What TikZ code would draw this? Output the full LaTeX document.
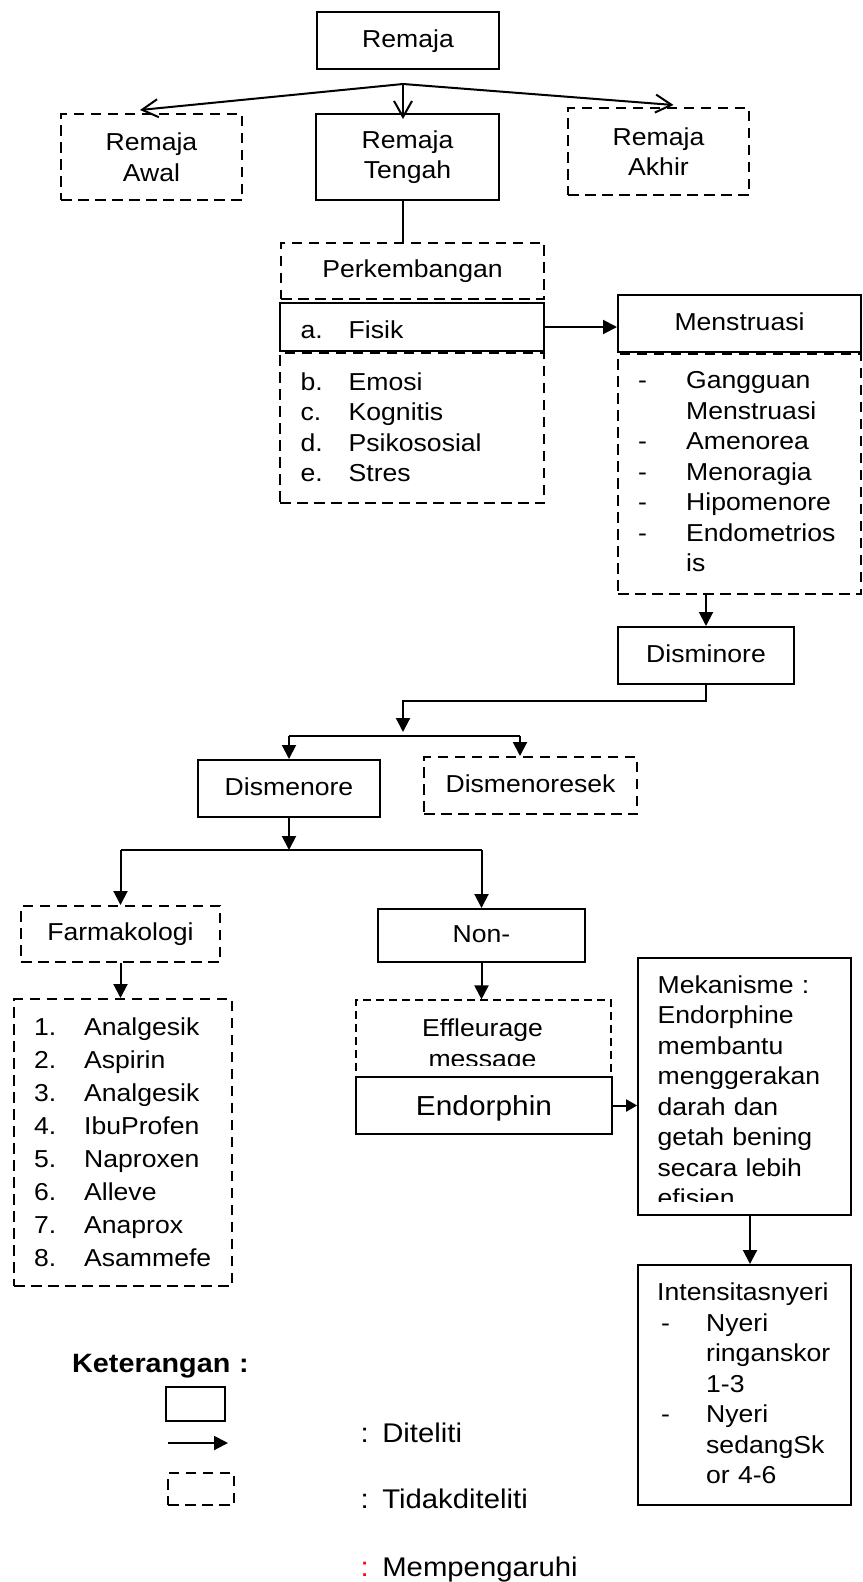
\documentclass[tikz,border=0pt]{standalone}
\usepackage{fontspec}
\setmainfont{Liberation Sans}[FakeStretch=1.085]
\usetikzlibrary{arrows.meta, positioning}
\newcommand{\butir}[3][48pt]{\makebox[#1][l]{#2}#3}

\begin{document}
\begin{tikzpicture}[
  x=1pt, y=-1pt,
  font=\fontsize{24.5pt}{30.5pt}\selectfont,
  kotak/.style={draw, line width=2pt, inner sep=0pt, align=center},
  putus/.style={kotak, dash pattern=on 10.5pt off 6.5pt},
  putustipis/.style={kotak, line width=1.2pt, dash pattern=on 8pt off 5pt},
  satu/.style={text height=17.5pt, text depth=4pt},
  teks/.style={inner sep=0pt, anchor=base west, align=left, text width=220pt},
  legenda/.style={teks, text width=320pt, font=\fontsize{27pt}{30pt}\selectfont},
  panah/.style={-{Triangle[length=14pt, width=14pt]}, line width=2pt},
  panahbuka/.style={-{Straight Barb[length=16pt, width=18pt]}, line width=2pt},
  panahkecil/.style={-{Triangle[length=11pt, width=12pt]}, line width=2pt},
  garis/.style={line width=2pt},
  garistipis/.style={line width=1.2pt}
]
\useasboundingbox (0,0) rectangle (862,1582);

\node[kotak, satu, minimum width=182pt, minimum height=57pt] (remaja) at (408,40.5) {Remaja};
\node[putus, minimum width=181pt, minimum height=86pt] (awal) at (151.5,157) {Remaja\\Awal};
\node[kotak, minimum width=183pt, minimum height=86pt] (tengah) at (407.5,157) {Remaja\\Tengah};
\node[putus, minimum width=181pt, minimum height=87pt] (akhir) at (658.5,151.5) {Remaja\\Akhir};

\coordinate (cabang) at (403,84);
\draw[panahbuka] (cabang) -- ([xshift=-11.5pt, yshift=3pt]awal.north);
\draw[panahbuka] (cabang) -- ([xshift=-4.5pt, yshift=-6pt]tengah.north);
\draw[panahbuka] (cabang) -- ([xshift=15pt, yshift=2pt]akhir.north);

\node[putus, satu, minimum width=263pt, minimum height=56pt] (perkembangan) at (412.5,270.5) {Perkembangan};
\draw[garis] (tengah.south -| cabang) -- (perkembangan.north -| cabang);

\node[kotak, minimum width=264pt, minimum height=48pt] (fisik) at (412,327) {};
\node[teks] (fisikteks) at (300.5,338) {\butir{a.}{Fisik}};
\node[putus, minimum width=264pt, minimum height=150pt] (fisiklist) at (412,428) {};
\node[teks] (fisiklistteks) at (300.5,390) {\butir{b.}{Emosi}\\\butir{c.}{Kognitis}\\\butir{d.}{Psikososial}\\\butir{e.}{Stres}};

\node[kotak, satu, minimum width=243pt, minimum height=57pt] (menstruasi) at (739.5,323.5) {Menstruasi};
\node[putus, minimum width=243pt, minimum height=240pt] (menslist) at (739.5,474) {};
\node[teks] (menslistteks) at (638,388.5) {\butir{-}{Gangguan}\\\butir{}{Menstruasi}\\\butir{-}{Amenorea}\\\butir{-}{Menoragia}\\\butir{-}{Hipomenore}\\\butir{-}{Endometrios}\\\butir{}{is}};
\draw[panah] (fisik.east) -- (fisik.east -| menstruasi.west);

\node[kotak, satu, minimum width=176pt, minimum height=57pt] (disminore) at (706,655.5) {Disminore};
\draw[panah] (menslist.south -| disminore.north) -- (disminore.north);

\coordinate (belok) at (403,701);
\coordinate (cabang2) at (403,736);
\draw[panah] (disminore.south) |- (belok) -- ([yshift=4pt]cabang2);

\node[kotak, satu, minimum width=182pt, minimum height=57pt] (dismenore) at (289,788.5) {Dismenore};
\node[putus, satu, minimum width=213pt, minimum height=57pt] (dismenoresek) at (530.5,785.5) {Dismenoresek};
\coordinate (tujuan) at ([xshift=-10.5pt]dismenoresek.north);
\draw[garistipis] (dismenore.north |- cabang2) -- (tujuan |- cabang2);
\draw[panah] (dismenore.north |- cabang2) -- (dismenore.north);
\draw[panah] (tujuan |- cabang2) -- (tujuan);

\coordinate (cabang3) at (288,850);
\draw[panah] (dismenore.south) -- (dismenore.south |- cabang3);

\node[putus, satu, minimum width=199pt, minimum height=56pt] (farmakologi) at (120.5,934) {Farmakologi};
\node[kotak, satu, minimum width=207pt, minimum height=53pt] (non) at (481.5,935.5) {Non-};
\draw[garistipis] (farmakologi.north |- cabang3) -- (non.north |- cabang3);
\draw[panah] (farmakologi.north |- cabang3) -- (farmakologi.north);
\draw[panah] (non.north |- cabang3) -- (non.north);

\node[putus, minimum width=218pt, minimum height=287pt] (farmlist) at (123,1142.5) {};
\node[teks, font=\fontsize{24.5pt}{33pt}\selectfont] (farmlistteks) at (34,1035) {\butir[50pt]{1.}{Analgesik}\\\butir[50pt]{2.}{Aspirin}\\\butir[50pt]{3.}{Analgesik}\\\butir[50pt]{4.}{IbuProfen}\\\butir[50pt]{5.}{Naproxen}\\\butir[50pt]{6.}{Alleve}\\\butir[50pt]{7.}{Anaprox}\\\butir[50pt]{8.}{Asammefe}};
\draw[panah] (farmakologi.south) -- (farmakologi.south |- farmlist.north);

\node[putustipis, minimum width=255pt, minimum height=77pt] (effleurage) at (483.5,1038.5) {};
\node[kotak, minimum width=256pt, minimum height=57pt, text height=20pt, text depth=0pt, font=\fontsize{27.5pt}{33pt}\selectfont] (endorphin) at (484,1105.5) {Endorphin};
\begin{scope}
  \clip (effleurage.north west) rectangle ([yshift=11pt]endorphin.north east);
  \node[teks, anchor=base, align=center] (effleurageteks) at (482.5,1036.7) {Effleurage\\message};
\end{scope}
\draw[panah] (non.south) -- (non.south |- effleurage.north);

\node[kotak, line width=1.7pt, minimum width=213pt, minimum height=257pt] (mekanisme) at (744.5,1086.5) {};
\begin{scope}
  \clip (mekanisme.north west) rectangle ([yshift=14pt]mekanisme.south east);
  \node[teks] (mekanismeteks) at (657.5,993) {Mekanisme :\\Endorphine\\membantu\\menggerakan\\darah dan\\getah bening\\secara lebih\\efisien};
\end{scope}
\draw[panahkecil] (endorphin.east) -- (endorphin.east -| mekanisme.west);

\node[kotak, minimum width=213pt, minimum height=240pt] (intensitas) at (744.5,1385) {};
\node[teks] (intensitasteks) at (657,1300.5) {Intensitasnyeri\\\butir[49pt]{\hspace{4pt}-}{Nyeri}\\\butir[49pt]{}{ringanskor}\\\butir[49pt]{}{1-3}\\\butir[49pt]{\hspace{4pt}-}{Nyeri}\\\butir[49pt]{}{sedangSk}\\\butir[49pt]{}{or 4-6}};
\draw[panah] ([xshift=5.5pt]mekanisme.south) -- ([xshift=5.5pt]intensitas.north);

\node[teks, font=\fontsize{26.5pt}{30pt}\selectfont\bfseries] (keterangan) at (72,1372.7) {Keterangan :};
\node[kotak, minimum width=59pt, minimum height=34pt] (legkotak) at (195.5,1404) {};
\coordinate (legpanahA) at (168,1443);
\coordinate (legpanahB) at (228,1443);
\draw[panah] (legpanahA) -- (legpanahB);
\node[putus, minimum width=66pt, minimum height=32pt] (legputus) at (201,1489) {};
\node[legenda] (legditeliti) at (360.5,1442) {: Diteliti};
\node[legenda] (legtidak) at (360.5,1508) {: Tidakditeliti};
\node[legenda] (legpengaruh) at (360.5,1576) {\textcolor{red}{:} Mempengaruhi};

\end{tikzpicture}
\end{document}
